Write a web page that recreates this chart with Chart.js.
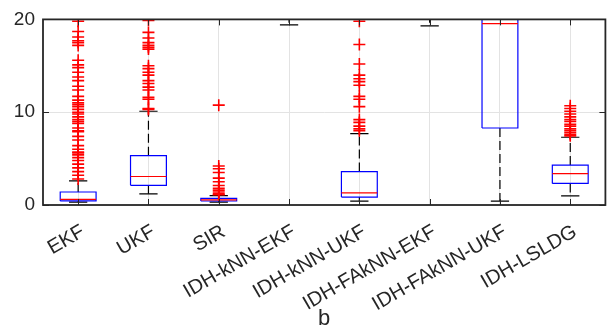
<!DOCTYPE html>
<html>
<head>
<meta charset="utf-8">
<script src="https://cdn.jsdelivr.net/npm/chart.js@4.4.0/dist/chart.umd.min.js"></script>
<style>
  html, body { margin: 0; padding: 0; background: #fff; }
  #wrap { width: 613px; height: 329px; }
</style>
</head>
<body>
<div id="wrap"><canvas id="myChart"></canvas></div>
<script>
const categories = ["EKF", "UKF", "SIR", "IDH-kNN-EKF", "IDH-kNN-UKF", "IDH-FAkNN-EKF", "IDH-FAkNN-UKF", "IDH-LSLDG"];
const yTicks = [0, 10, 20];

// box stats per method (values above 20 are off the top of the plot)
const q1 = [0.44, 2.12, 0.43, 22, 0.85, 22, 8.3, 2.33];
const medians = [0.6, 3.07, 0.56, 24, 1.3, 24, 19.55, 3.39];
const q3 = [1.4, 5.32, 0.72, 28, 3.6, 28, 26, 4.3];
const whiskerLow = [0.32, 1.2, 0.32, 19.4, 0.42, 19.3, 0.42, 0.98];
const whiskerHigh = [2.6, 10.1, 1.02, 35, 7.7, 35, 40, 7.3];

const outliersEKF = [19.8, 18.7, 18.1, 17.7, 17.5, 17.2, 15.6, 15.1, 14.8, 14.3, 13.8, 13.4, 12.8, 12.4, 11.7, 11.3, 11.0, 10.8, 10.6, 10.3, 10.0, 9.8, 9.5, 9.2, 9.0, 8.8, 8.3, 8.0, 7.9, 7.4, 7.0, 6.4, 6.0, 5.7, 5.6, 5.4, 5.1, 4.8, 4.4, 4.0, 3.6, 3.2, 2.8];
const outliersUKF = [19.9, 18.6, 18.0, 17.5, 17.2, 17.0, 16.8, 15.0, 14.7, 14.3, 14.0, 13.4, 13.1, 12.7, 12.4, 11.6, 11.4, 10.4, 10.3];
const outliersSIR = [10.76, 4.2, 3.9, 3.5, 2.9, 2.5, 2.1, 1.8, 1.6, 1.4, 1.2, 1.1];
const outliersKnnUKF = [19.8, 17.3, 15.2, 14.0, 13.6, 13.3, 12.9, 11.7, 11.4, 10.6, 9.2, 8.9, 8.5, 8.2, 8.0];
const outliersLSLDG = [10.7, 10.4, 10.1, 9.8, 9.5, 9.2, 9.0, 8.7, 8.5, 8.2, 8.0, 7.8, 7.6, 7.45];
const outliers = [outliersEKF, outliersUKF, outliersSIR, [], outliersKnnUKF, [], [], outliersLSLDG];

const boxHalf = 0.255;
const capHalf = 0.13;
const textColor = "#262626";
const fontFamily = "'Liberation Sans', Arial, Helvetica, sans-serif";

const boxPts = [];
const medianPts = [];
const whiskerPts = [];
const capPts = [];
const outlierPts = [];
categories.forEach((c, i) => {
  boxPts.push({ x: i - boxHalf, y: q1[i] }, { x: i + boxHalf, y: q1[i] }, { x: i + boxHalf, y: q3[i] },
    { x: i - boxHalf, y: q3[i] }, { x: i - boxHalf, y: q1[i] }, { x: i, y: null });
  medianPts.push({ x: i - boxHalf, y: medians[i] }, { x: i + boxHalf, y: medians[i] }, { x: i, y: null });
  whiskerPts.push({ x: i, y: q3[i] }, { x: i, y: whiskerHigh[i] }, { x: i, y: null },
    { x: i, y: q1[i] }, { x: i, y: whiskerLow[i] }, { x: i, y: null });
  capPts.push({ x: i - capHalf, y: whiskerHigh[i] }, { x: i + capHalf, y: whiskerHigh[i] }, { x: i, y: null },
    { x: i - capHalf, y: whiskerLow[i] }, { x: i + capHalf, y: whiskerLow[i] }, { x: i, y: null });
  outliers[i].forEach((v) => outlierPts.push({ x: i, y: v }));
});

// frame and inward tick marks like matlab axes
const framePlugin = {
  id: "frame",
  afterDraw(chart) {
    const { ctx, chartArea: a, scales } = chart;
    ctx.save();
    ctx.strokeStyle = textColor;
    ctx.lineWidth = 1;
    ctx.beginPath();
    scales.y.ticks.forEach((t) => {
      const py = Math.round(scales.y.getPixelForValue(t.value)) + 0.5;
      ctx.moveTo(a.left, py); ctx.lineTo(a.left + 6, py);
      ctx.moveTo(a.right, py); ctx.lineTo(a.right - 6, py);
    });
    scales.x.ticks.forEach((t) => {
      const px = Math.round(scales.x.getPixelForValue(t.value)) + 0.5;
      ctx.moveTo(px, a.bottom); ctx.lineTo(px, a.bottom - 6);
      ctx.moveTo(px, a.top); ctx.lineTo(px, a.top + 6);
    });
    ctx.stroke();
    ctx.lineWidth = 1.8;
    ctx.strokeRect(a.left, a.top, a.right - a.left, a.bottom - a.top);
    ctx.restore();
  },
};

const ctx = document.getElementById("myChart").getContext("2d");
const myChart = new Chart(ctx, {
  type: "line",
  data: {
    datasets: [
      {
        label: "outliers",
        type: "scatter",
        data: outlierPts,
        pointStyle: "cross",
        pointRadius: 6,
        borderColor: "#ff0000",
        borderWidth: 1.6,
        order: 0,
      },
      {
        label: "median",
        data: medianPts,
        borderColor: "#ff0000",
        borderWidth: 1.2,
        pointRadius: 0,
        spanGaps: false,
        order: 1,
      },
      {
        label: "box",
        data: boxPts,
        borderColor: "#0000ff",
        borderWidth: 1.2,
        pointRadius: 0,
        spanGaps: false,
        order: 2,
      },
      {
        label: "caps",
        data: capPts,
        borderColor: "#000000",
        borderWidth: 1.2,
        pointRadius: 0,
        spanGaps: false,
        order: 3,
      },
      {
        label: "whiskers",
        data: whiskerPts,
        borderColor: "#000000",
        borderWidth: 1.2,
        borderDash: [9, 4],
        pointRadius: 0,
        spanGaps: false,
        order: 4,
      },
    ],
  },
  options: {
    responsive: true,
    maintainAspectRatio: false,
    animation: false,
    layout: { padding: { top: 16, right: 5, left: 0, bottom: 0 } },
    plugins: { legend: { display: false }, tooltip: { enabled: false } },
    scales: {
      x: {
        type: "linear",
        min: -0.5,
        max: 7.5,
        afterBuildTicks: (axis) => {
          axis.ticks = categories.map((c, i) => ({ value: i }));
        },
        afterFit: (axis) => { axis.height = 124; },
        grid: { color: "#e3e3e3", drawTicks: false },
        border: { display: false },
        ticks: {
          autoSkip: false,
          minRotation: 30,
          maxRotation: 30,
          padding: 15,
          labelOffset: 5,
          color: textColor,
          font: { family: fontFamily, size: 20 },
          callback: (value) => categories[value],
        },
        title: {
          display: true,
          text: "b",
          color: textColor,
          font: { family: fontFamily, size: 22 },
          padding: { top: 0, bottom: -3 },
        },
      },
      y: {
        min: 0,
        max: 20,
        afterBuildTicks: (axis) => {
          axis.ticks = yTicks.map((v) => ({ value: v }));
        },
        afterFit: (axis) => { axis.width = 43; },
        grid: { color: "#e3e3e3", drawTicks: false },
        border: { display: false },
        ticks: {
          padding: 8,
          color: textColor,
          font: { family: fontFamily, size: 19 },
        },
      },
    },
  },
  plugins: [framePlugin],
});
</script>
</body>
</html>
